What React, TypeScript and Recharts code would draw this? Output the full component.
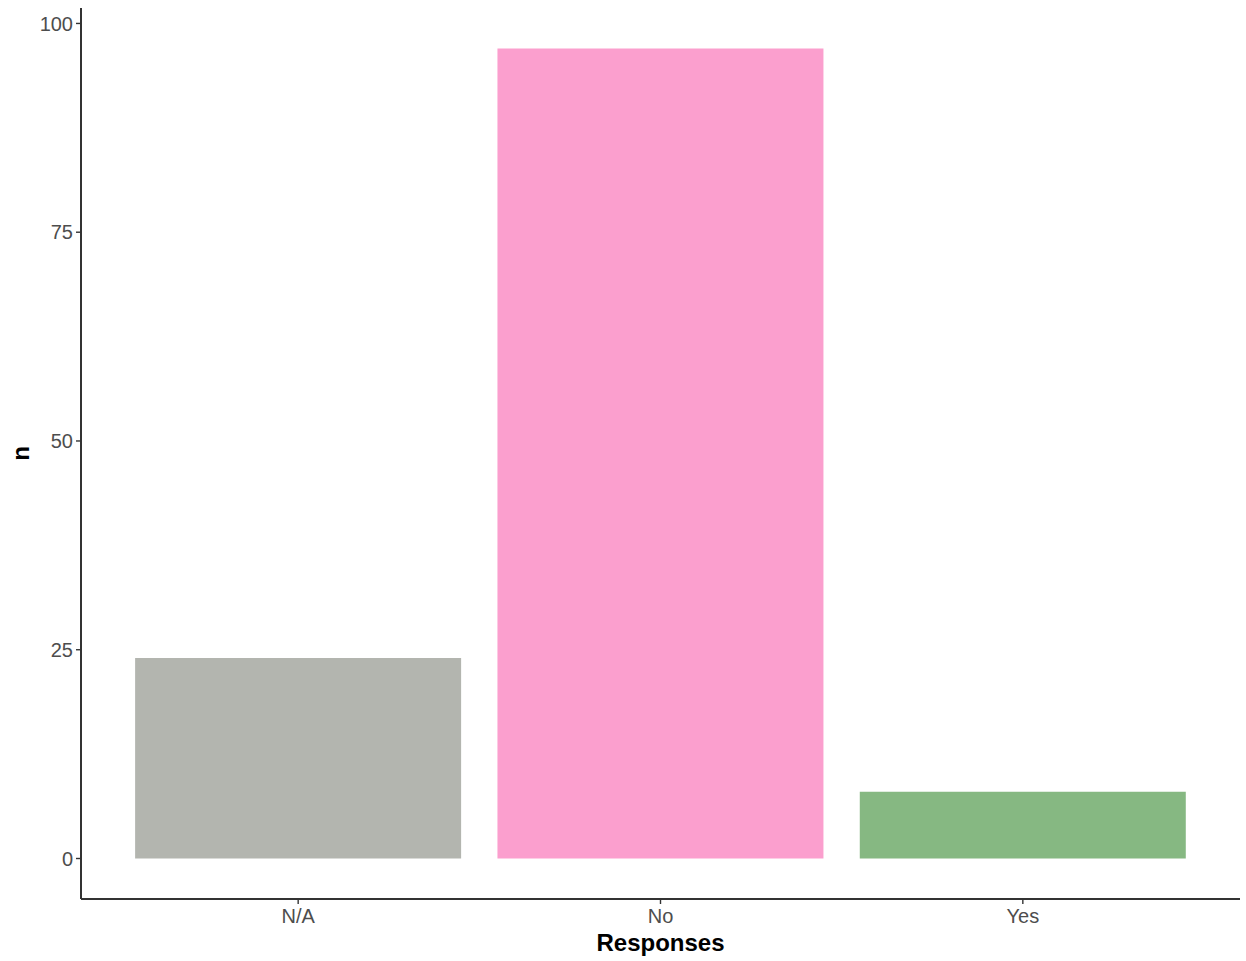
import React from "react";
import { BarChart, Bar, XAxis, YAxis, Cell, Label } from "recharts";

const categories = ["N/A", "No", "Yes"];
const counts = [24, 97, 8];
const barColors = ["#b3b5af", "#fb9fce", "#86b882"];
const yTicks = [0, 25, 50, 75, 100];

const data = categories.map((c, i) => ({ name: c, n: counts[i] }));

const FONT = "'Liberation Sans', Arial, sans-serif";

export default function App() {
  return (
    <div style={{ position: "absolute", left: 0, top: 0, width: 1246, height: 961, background: "#fff" }}>
      <BarChart
        width={1246}
        height={961}
        data={data}
        margin={{ top: 8, right: 6, bottom: 0, left: 1 }}
        barCategoryGap="5%"
      >
        <XAxis
          dataKey="name"
          height={62}
          padding={{ left: 36, right: 36 }}
          axisLine={{ stroke: "#333", strokeWidth: 2 }}
          tickLine={{ stroke: "#333", strokeWidth: 1.4 }}
          tickSize={5}
          tickMargin={5}
          tick={{ fill: "#4d4d4d", fontSize: 20, fontFamily: FONT }}
          interval={0}
        >
          <Label
            content={(props: any) => {
              const vb = props.viewBox;
              return (
                <text
                  x={vb.x + vb.width / 2}
                  y={951}
                  textAnchor="middle"
                  fontFamily={FONT}
                  fontWeight="bold"
                  fontSize={24}
                  fill="#000"
                >
                  Responses
                </text>
              );
            }}
          />
        </XAxis>
        <YAxis
          width={80}
          type="number"
          domain={[-4.85, 101.85]}
          ticks={yTicks}
          allowDataOverflow
          axisLine={{ stroke: "#333", strokeWidth: 2 }}
          tickLine={{ stroke: "#333", strokeWidth: 1.4 }}
          tickSize={5}
          tickMargin={3}
          tick={{ fill: "#4d4d4d", fontSize: 20, fontFamily: FONT }}
        >
          <Label
            content={(props: any) => {
              const vb = props.viewBox;
              const cx = 20;
              const cy = vb.y + vb.height / 2;
              return (
                <text
                  x={cx}
                  y={cy}
                  textAnchor="middle"
                  dominantBaseline="central"
                  transform={`rotate(-90, ${cx}, ${cy})`}
                  fontFamily={FONT}
                  fontWeight="bold"
                  fontSize={24}
                  fill="#000"
                >
                  n
                </text>
              );
            }}
          />
        </YAxis>
        <Bar dataKey="n" isAnimationActive={false}>
          {data.map((d, i) => (
            <Cell key={d.name} fill={barColors[i]} />
          ))}
        </Bar>
      </BarChart>
    </div>
  );
}
